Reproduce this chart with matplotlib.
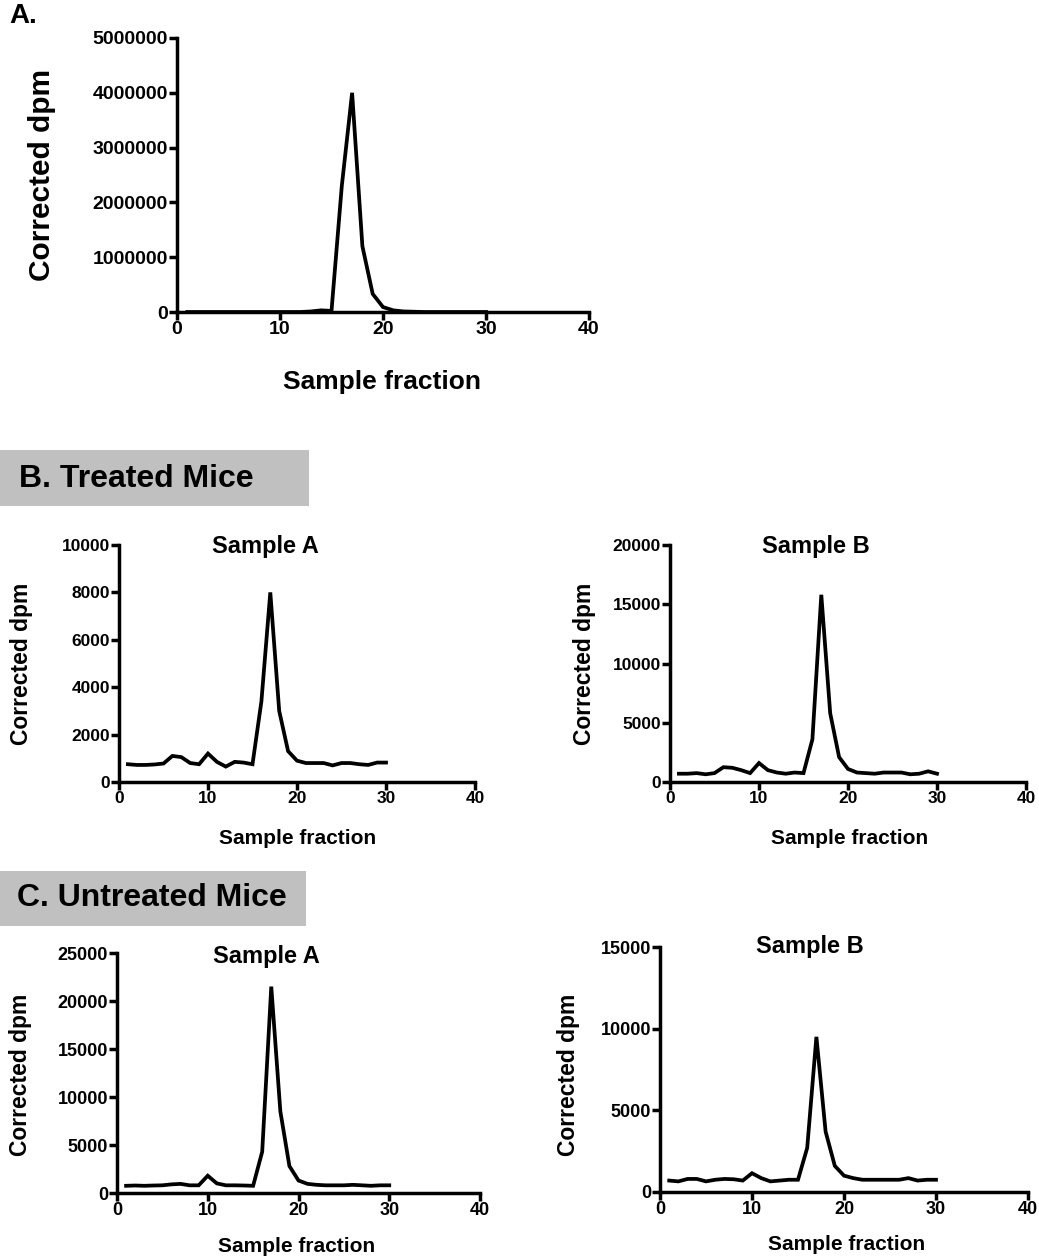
import matplotlib
matplotlib.use("Agg")
import matplotlib.pyplot as plt
from matplotlib.patches import Rectangle

plt.rcParams['font.family'] = ['Liberation Sans', 'DejaVu Sans']
plt.rcParams['font.weight'] = 'bold'

W, H = 1039, 1257

# ---------------- data ----------------
fractions = list(range(1, 31))

panelA_dpm = [0, 0, 0, 0, 0, 0, 0, 0, 0, 0,
              0, 0, 10000, 30000, 20000, 2300000, 4000000, 1200000, 330000, 90000,
              30000, 10000, 5000, 0, 0, 0, 0, 0, 0, 0]

treated_A = [750, 720, 720, 740, 780, 1100, 1050, 800, 750, 1200,
             850, 650, 850, 820, 750, 3400, 8000, 3000, 1300, 900,
             800, 800, 800, 700, 800, 800, 750, 720, 820, 820]

treated_B = [700, 700, 750, 650, 750, 1250, 1200, 1000, 750, 1600,
             1000, 800, 700, 800, 750, 3600, 15800, 5800, 2100, 1100,
             800, 750, 700, 800, 800, 800, 650, 700, 900, 700]

untreated_A = [750, 780, 750, 780, 800, 900, 950, 800, 800, 1800,
               1000, 800, 800, 780, 750, 4300, 21500, 8500, 2800, 1300,
               950, 850, 800, 800, 800, 850, 800, 750, 800, 800]

untreated_B = [700, 650, 800, 800, 650, 750, 800, 780, 700, 1150,
               850, 650, 700, 750, 750, 2700, 9500, 3700, 1600, 1000,
               850, 750, 750, 750, 750, 750, 850, 700, 750, 750]

x_ticks = [0, 10, 20, 30, 40]
panelA_yticks = [0, 1000000, 2000000, 3000000, 4000000, 5000000]
treated_A_yticks = [0, 2000, 4000, 6000, 8000, 10000]
treated_B_yticks = [0, 5000, 10000, 15000, 20000]
untreated_A_yticks = [0, 5000, 10000, 15000, 20000, 25000]
untreated_B_yticks = [0, 5000, 10000, 15000]

fig = plt.figure(figsize=(W / 100, H / 100), dpi=100)


def px_axes(left, right, bottom, top):
    return fig.add_axes([left / W, 1 - bottom / H, (right - left) / W, (bottom - top) / H])


def panel(box, yticks, y, xlab_xy, ylab_xy, tick_fs, xlab_fs, ylab_fs, lw=2.5, title=None,
          title_xy=None, title_fs=17):
    ax = px_axes(*box)
    ax.plot(fractions, y, color='black', lw=lw + 0.2, solid_joinstyle='miter', clip_on=False, zorder=3)
    ax.set_xlim(0, 40)
    ax.set_ylim(0, yticks[-1])
    ax.set_xticks(x_ticks)
    ax.set_yticks(yticks)
    ax.set_xticklabels([str(t) for t in x_ticks])
    ax.set_yticklabels([str(t) for t in yticks])
    for s in ['top', 'right']:
        ax.spines[s].set_visible(False)
    for s in ['left', 'bottom']:
        ax.spines[s].set_linewidth(lw)
        ax.spines[s].set_capstyle('projecting')
    ax.tick_params(direction='out', length=5.5, width=lw, labelsize=tick_fs, pad=1)
    for lab in ax.get_xticklabels() + ax.get_yticklabels():
        lab.set_fontweight('bold')
    ax.set_xlabel('Sample fraction', fontsize=xlab_fs, fontweight='bold')
    ax.set_ylabel('Corrected dpm', fontsize=ylab_fs, fontweight='bold')
    ax.xaxis.set_label_coords(xlab_xy[0] / W, 1 - xlab_xy[1] / H, transform=fig.transFigure)
    ax.xaxis.label.set_verticalalignment('center')
    ax.yaxis.set_label_coords(ylab_xy[0] / W, 1 - ylab_xy[1] / H, transform=fig.transFigure)
    ax.yaxis.label.set_verticalalignment('center')
    if title is not None:
        fig.text(title_xy[0] / W, 1 - title_xy[1] / H, title, fontsize=title_fs,
                 fontweight='bold', ha='center', va='center')
    return ax


# ---------------- Panel A ----------------
panel((177, 589, 312, 38), panelA_yticks, panelA_dpm, (382, 382), (42, 175),
      14, 19, 21.5, lw=2.5)
fig.text(9 / W, 1 - 16 / H, 'A.', fontsize=20, fontweight='bold', va='center', ha='left')

# ---------------- Panel B ----------------
fig.patches.append(Rectangle((0, 1 - 506 / H), 309 / W, 56 / H, transform=fig.transFigure,
                             facecolor='#c0c0c0', edgecolor='none', zorder=0))
fig.text(19 / W, 1 - 479 / H, 'B. Treated Mice', fontsize=23, fontweight='bold', va='center', ha='left')

panel((119, 475, 782, 545), treated_A_yticks, treated_A, (298, 838), (22, 664),
      12.5, 15, 16.5, title='Sample A', title_xy=(265, 547))
panel((670, 1026, 782, 545), treated_B_yticks, treated_B, (850, 838), (585, 664),
      12.5, 15, 16.5, title='Sample B', title_xy=(816, 547))

# ---------------- Panel C ----------------
fig.patches.append(Rectangle((0, 1 - 926 / H), 306 / W, 55 / H, transform=fig.transFigure,
                             facecolor='#c0c0c0', edgecolor='none', zorder=0))
fig.text(17 / W, 1 - 898 / H, 'C. Untreated Mice', fontsize=23, fontweight='bold', va='center', ha='left')

panel((117, 480, 1193, 953), untreated_A_yticks, untreated_A, (297, 1247), (21, 1075),
      13, 15, 16.5, title='Sample A', title_xy=(266, 957))
panel((660, 1028, 1192, 947), untreated_B_yticks, untreated_B, (847, 1245), (568, 1075),
      13, 15, 16.5, title='Sample B', title_xy=(810, 947))

fig.savefig('out.png', dpi=100, facecolor='white')
